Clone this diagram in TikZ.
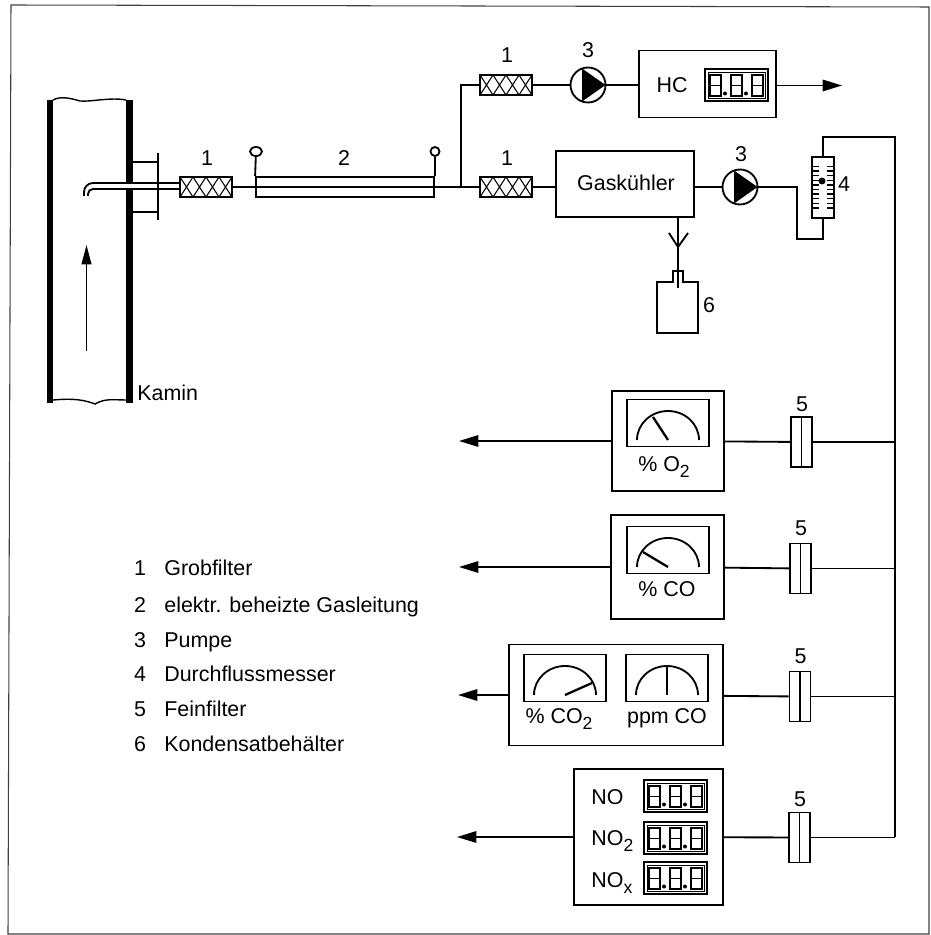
\documentclass[tikz,border=0pt]{standalone}
\usepackage{fontspec}
\setmainfont{Liberation Sans}
\usetikzlibrary{arrows.meta, shapes.geometric}
\tikzset{
	every node/.style={font=\fontsize{12.2}{14}\selectfont},
	txt/.style={anchor=base, inner sep=0pt},
	txtl/.style={anchor=base west, inner sep=0pt},
	line/.style={line width=1.05pt},
	flow/.style={line width=1.05pt, -{Triangle[length=11pt, width=6.5pt]}},
	box/.style={draw, line width=1.05pt, inner sep=0pt},
	panel/.style={box, minimum width=1.64cm, minimum height=0.94cm},
	grobfilter/.style={box, fill=white, minimum width=1.04cm, minimum height=0.41cm,
		path picture={
			\foreach \i in {0, 1, 2, 3}
				\draw[line width=0.6pt, shift={(path picture bounding box.center)}]
					(-26+13*\i, -10)--(-13+13*\i, 10) (-13+13*\i, -10)--(-26+13*\i, 10);
		}},
	pumpe/.style={box, circle, fill=white, minimum size=0.7cm,
		path picture={
			\fill[black, shift={(path picture bounding box.center)}] (-6, -16.5)--(17.5, 0)--(-6, 16.5)--cycle;
		}},
	feinfilter/.style={box, fill=white, minimum width=0.42cm, minimum height=1cm,
		path picture={
			\draw[line width=1pt] (path picture bounding box.north)--(path picture bounding box.south);
		}},
	rotameter/.style={box, fill=white, minimum width=0.44cm, minimum height=1.22cm,
		path picture={
			\foreach \i in {0, 1, ..., 9}
				\draw[line width=0.7pt, shift={(path picture bounding box.center)}]
					(-11, -21+4.6*\i)--(-4, -21+4.6*\i) (4, -21+4.6*\i)--(11, -21+4.6*\i);
			\fill[black, shift={(path picture bounding box.center)}] (-1, -6.5) circle (3.5);
		}},
	knob/.style={box, circle, minimum size=0.18cm}
}
\newcommand{\lowidx}[1]{\raisebox{-3.5pt}{\fontsize{10}{10}\selectfont #1}}
\newcommand{\ziffern}[3]{
	\begin{scope}[shift={(#2, #3)}]
		\node[box, minimum width=1.26cm, minimum height=0.64cm] (#1) at (31.5, 16) {};
		\draw[line width=0.5pt] (3, 3) rectangle (60, 29);
		\foreach \d in {5, 26, 47} {
			\draw[line width=0.7pt] (\d, 6) rectangle (\d+11, 27);
			\draw[line width=0.7pt] (\d, 16.5)--(\d+11, 16.5);
		}
		\fill (20, 24.5) circle (2);
		\fill (41, 24.5) circle (2);
	\end{scope}
}
\newcommand{\anzeige}[5]{
	\node[panel] (#1) at (#2, #3-17) {};
	\draw[line width=1.05pt] (#2-31, #3) arc[start angle=180, end angle=360, x radius=31, y radius=29];
	\draw[line width=1.3pt] (#2, #3)--(#4, #5);
}
\begin{document}
\begin{tikzpicture}[x=0.02cm, y=-0.02cm]
		\useasboundingbox (0, 0) rectangle (930, 935);
		\draw[line width=0.6pt, black!75] (11, 5)--(929, 7)--(929, 934)--(8, 934)--cycle;

		\fill (47, 100) rectangle (53, 403);
		\fill (126, 100) rectangle (133, 403);
		\draw[line width=0.8pt] (53, 100) .. controls (60, 96) and (70, 98) .. (80, 101) .. controls (92, 102) and (110, 97) .. (126, 100);
		\draw[line width=0.8pt] (53, 400) .. controls (65, 399) and (80, 398) .. (95, 404) .. controls (105, 398) and (115, 400) .. (126, 400);
		\draw[line width=1.05pt, -{Triangle[length=11pt, width=5.5pt]}] (86.5, 351)--(86.5, 245);
		\node[txtl] (kamin) at (137, 400) {Kamin};

		\draw[line] (133, 162)--(158, 162);
		\draw[line] (133, 212)--(158, 212);
		\draw[line] (158, 153)--(158, 220);
		\fill[white] (120, 184)--(140, 184)--(140, 188)--(120, 188)--cycle;
		\draw[line] (84, 196)--(84, 192) arc[start angle=180, end angle=270, radius=9]--(180, 183);
		\draw[line] (88, 196)--(88, 194) arc[start angle=180, end angle=270, radius=5]--(180, 189);

		\node[grobfilter] (filterA) at (206, 187) {};
		\node[box, minimum width=3.56cm, minimum height=0.4cm] (leitung) at (345, 187) {};
		\draw[line width=1.4pt] (leitung.west)--(leitung.east);
		\node[knob, ellipse, minimum width=0.24cm, minimum height=0.18cm] (knobA) at (256, 151.5) {};
		\node[knob] (knobB) at (435, 151.5) {};
		\draw[line] (knobA)--(leitung.north west);
		\draw[line] (knobB)--(leitung.north east);
		\draw[line] (filterA)--(leitung);
		\node[txt] (nrA) at (207, 166) {1};
		\node[txt] (nrB) at (344, 166) {2};

		\coordinate (abzweig) at (461, 187);
		\node[grobfilter] (filterB) at (506, 85) {};
		\node[grobfilter] (filterC) at (506, 187) {};
		\draw[line] (leitung)--(abzweig);
		\draw[line] (abzweig)--(filterC);
		\draw[line] (abzweig)|-(filterB);
		\node[txt] (nrC) at (507, 63) {1};
		\node[txt] (nrD) at (507, 166) {1};

		\node[pumpe] (pumpeA) at (588, 85) {};
		\node[txt] (nrE) at (588, 58) {3};
		\node[box, minimum width=2.74cm, minimum height=1.34cm] (hc) at (707.5, 84) {};
		\node[txt] (hctext) at (672, 93) {HC};
		\ziffern{hcziffern}{705}{69}
		\coordinate (hcaus) at (842, 85.5);
		\draw[line] (filterB)--(pumpeA);
		\draw[line] (pumpeA)--(pumpeA -| hc.west);
		\draw[flow] (hcaus -| hc.east)--(hcaus);

		\node[box, minimum width=2.76cm, minimum height=1.32cm] (kuehler) at (625, 184) {};
		\node[txt] (kuehlertext) at (626, 191) {Gaskühler};
		\node[pumpe] (pumpeB) at (740, 187) {};
		\node[txt] (nrF) at (741, 162) {3};
		\draw[line] (filterC)--(filterC -| kuehler.west);
		\draw[line] (pumpeB -| kuehler.east)--(pumpeB);

		\node[rotameter] (messer) at (823, 187.5) {};
		\node[txt] (nrG) at (844, 192) {4};
		\coordinate (knickA) at (797, 239);
		\draw[line] (pumpeB)-|(knickA)-|(messer.south);

		\coordinate (trichter) at (678, 247);
		\coordinate (tropfen) at (678, 288);
		\draw[line] (kuehler.south -| trichter)--(tropfen);
		\draw[line] (669, 233)--(trichter)--(688, 233);
		\draw[line] (673, 282)--(657, 282)--(657, 333)--(698, 333)--(698, 282)--(683, 282)--(683, 271)--(673, 271)--cycle;
		\node[txt] (nrH) at (709, 313) {6};

		\coordinate (oben) at (895, 137);
		\coordinate (unten) at (895, 837);
		\draw[line] (messer.north)|-(oben)--(unten);

		\node[box, minimum width=2.24cm, minimum height=2cm] (geraetA) at (668, 441) {};
		\anzeige{dialA}{668}{440}{653}{417}
		\node[txt] (textA) at (664, 471) {\% O\lowidx{2}};
		\node[feinfilter] (feinA) at (801.5, 442) {};
		\node[txt] (nrI) at (802, 411) {5};
		\coordinate (ausA) at (459, 441);
		\draw[line] (geraetA)--(feinA);
		\draw[line] (feinA)--(feinA -| oben);
		\draw[flow] (geraetA)--(ausA);

		\node[box, minimum width=2.26cm, minimum height=2.08cm] (geraetB) at (667.5, 567) {};
		\anzeige{dialB}{668}{567}{643}{552}
		\node[txt] (textB) at (667, 596) {\% CO};
		\node[feinfilter] (feinB) at (800.5, 568.5) {};
		\node[txt] (nrJ) at (801, 535) {5};
		\coordinate (ausB) at (459, 567);
		\draw[line] (geraetB)--(feinB);
		\draw[line] (feinB)--(feinB -| oben);
		\draw[flow] (geraetB)--(ausB);

		\node[box, minimum width=4.28cm, minimum height=2.02cm] (geraetC) at (616, 695) {};
		\anzeige{dialC}{565}{695}{592}{683}
		\anzeige{dialD}{667}{695}{667}{665}
		\node[txt] (textC) at (559, 723) {\% CO\lowidx{2}};
		\node[txt] (textD) at (667, 723) {ppm CO};
		\node[feinfilter] (feinC) at (800, 696.5) {};
		\node[txt] (nrK) at (800.5, 663) {5};
		\coordinate (ausC) at (458, 695);
		\draw[line] (geraetC)--(feinC);
		\draw[line] (feinC)--(feinC -| oben);
		\draw[flow] (geraetC)--(ausC);

		\node[box, minimum width=2.98cm, minimum height=2.72cm] (geraetD) at (648.5, 837) {};
		\node[txtl] (textE) at (591, 804) {NO};
		\node[txtl] (textF) at (591, 845) {NO\lowidx{2}};
		\node[txtl] (textG) at (591, 887) {NO\lowidx{x}};
		\ziffern{ziffernA}{644}{780}
		\ziffern{ziffernB}{644}{822}
		\ziffern{ziffernC}{644}{862}
		\node[feinfilter] (feinD) at (799.5, 837.5) {};
		\node[txt] (nrL) at (800, 806) {5};
		\coordinate (ausD) at (457, 837);
		\draw[line] (geraetD)--(feinD);
		\draw[line] (feinD)--(feinD -| oben);
		\draw[flow] (geraetD)--(ausD);

		\node[txt] (legA) at (140, 575) {1};
		\node[txt] (legB) at (140, 612) {2};
		\node[txt] (legC) at (140, 647) {3};
		\node[txt] (legD) at (140, 681) {4};
		\node[txt] (legE) at (140, 716) {5};
		\node[txt] (legF) at (140, 751) {6};
		\node[txtl] (legtextA) at (164, 575) {Grobfilter};
		\node[txtl] (legtextB) at (164, 612) {elektr. beheizte Gasleitung};
		\node[txtl] (legtextC) at (164, 647) {Pumpe};
		\node[txtl] (legtextD) at (164, 681) {Durchflussmesser};
		\node[txtl] (legtextE) at (164, 716) {Feinfilter};
		\node[txtl] (legtextF) at (164, 751) {Kondensatbehälter};
	\end{tikzpicture}
\end{document}
